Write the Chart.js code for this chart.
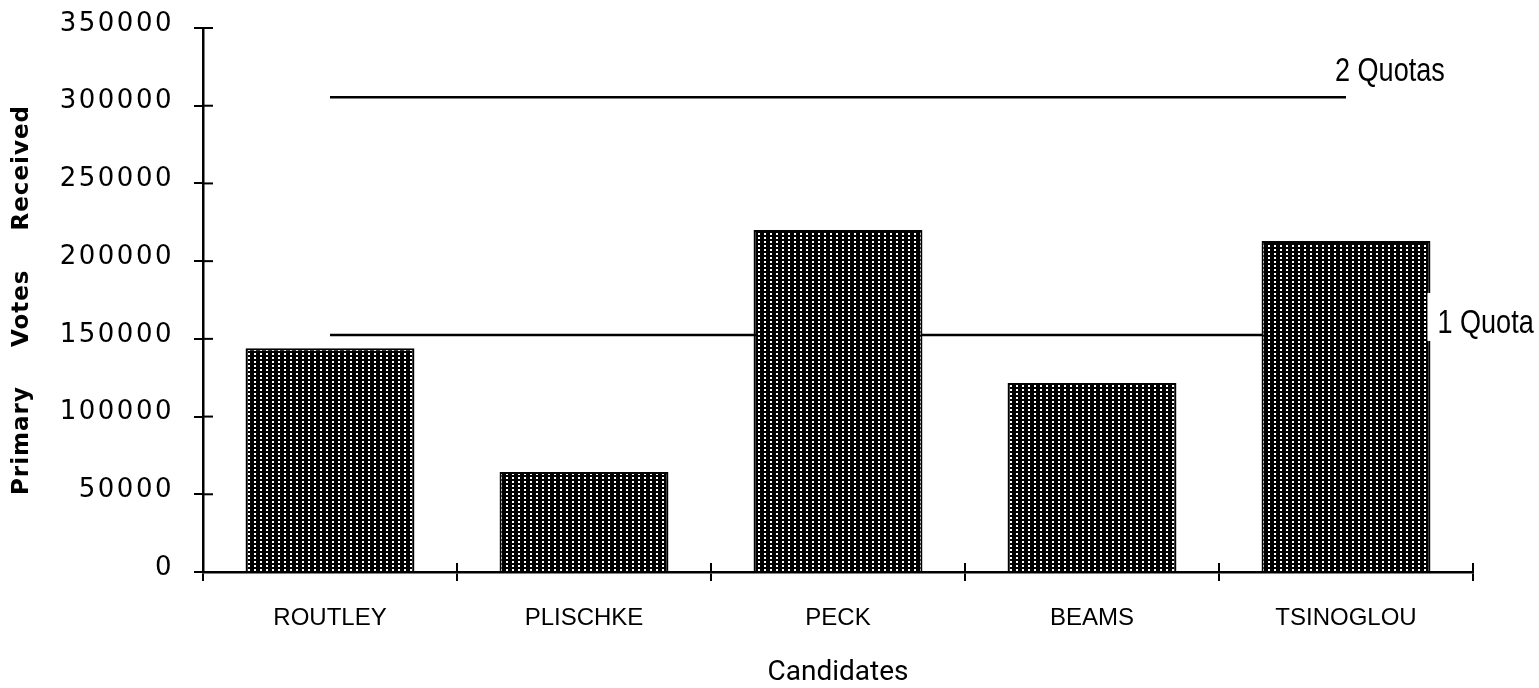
<!DOCTYPE html>
<html><head><meta charset="utf-8">
<script src="https://cdn.jsdelivr.net/npm/chart.js@4.4.1/dist/chart.umd.min.js"></script>
<style>html,body{margin:0;padding:0;background:#fff;} #wrap{width:1539px;height:688px;position:relative;}</style>
</head><body><div id="wrap"><canvas id="c"></canvas></div>
<script>
const candidates = ['ROUTLEY', 'PLISCHKE', 'PECK', 'BEAMS', 'TSINOGLOU'];
const primaryVotes = [144000, 64300, 220000, 121600, 213000];
const oneQuota = [152500, 152500, 152500, 152500, 152500];
const twoQuotas = [305500, 305500, 305500, 305500, 305500];
const quotaLabels = ['1 Quota', '2 Quotas'];
const yTicks = [0, 50000, 100000, 150000, 200000, 250000, 300000, 350000];
const yTitle = 'Primary Votes Received';
const xTitle = 'Candidates';

const canvas = document.getElementById('c');
const mainCtx = canvas.getContext('2d');
function makePattern() {
  const t = document.createElement('canvas');
  t.width = 6; t.height = 4;
  const g = t.getContext('2d');
  g.fillStyle = '#000'; g.fillRect(0, 0, 6, 4);
  g.fillStyle = '#fff'; g.fillRect(2, 1, 2, 2);
  return mainCtx.createPattern(t, 'repeat');
}
const pattern = makePattern();

const spacingPlugin = {
  id: 'spacing',
  beforeDraw(chart) {
    const y = chart.scales.y;
    if (y && !y._wrapped) {
      const dl = y.drawLabels.bind(y), dt = y.drawTitle.bind(y);
      y.drawLabels = function (a) { const c = chart.ctx; c.save(); c.letterSpacing = '2.5px'; dl(a); c.restore(); };
      y.drawTitle = function () { const c = chart.ctx; c.save(); c.letterSpacing = '1px'; try { c.wordSpacing = '30px'; } catch (e) {} dt(); c.restore(); };
      y._wrapped = true;
    }
  }
};

function condensedText(ctx, text, x, y, sx) {
  ctx.save();
  ctx.translate(x, y);
  ctx.scale(sx, 1);
  ctx.fillText(text, 0, 0);
  ctx.restore();
}

const extrasPlugin = {
  id: 'extras',
  afterDatasetsDraw(chart) {
    const { ctx, scales: { x, y }, chartArea } = chart;
    ctx.save();
    ctx.strokeStyle = '#000';
    ctx.lineWidth = 2;
    // inner halves of the crossing tick marks
    y.ticks.forEach(t => {
      const py = y.getPixelForValue(t.value);
      ctx.beginPath(); ctx.moveTo(chartArea.left, py); ctx.lineTo(chartArea.left + 10, py); ctx.stroke();
    });
    const half = (x.getPixelForValue(1) - x.getPixelForValue(0)) / 2;
    for (let i = 0; i <= candidates.length; i++) {
      const px = x.getPixelForValue(0) - half + i * 2 * half;
      ctx.beginPath(); ctx.moveTo(px, chartArea.bottom); ctx.lineTo(px, chartArea.bottom - 9); ctx.stroke();
    }
    // quota labels
    const last = candidates.length - 1;
    const bar = chart.getDatasetMeta(0).data[last];
    const barRight = bar.x + bar.width / 2;
    const q1Base = y.getPixelForValue(oneQuota[last]) - 2;
    ctx.fillStyle = '#fff';
    ctx.fillRect(barRight - 3, q1Base - 40, 8, 48);
    ctx.fillStyle = '#000';
    ctx.font = '33px "Liberation Sans", Arial, sans-serif';
    ctx.textAlign = 'left';
    ctx.textBaseline = 'alphabetic';
    condensedText(ctx, quotaLabels[1], x.getPixelForValue(last) - 11, y.getPixelForValue(twoQuotas[last]) - 16, 0.82);
    condensedText(ctx, quotaLabels[0], barRight + 7, q1Base, 0.82);
    ctx.restore();
  }
};

new Chart(canvas, {
  type: 'bar',
  data: {
    labels: candidates,
    datasets: [
      { type: 'bar', label: 'Primary Votes', data: primaryVotes, backgroundColor: pattern, borderColor: '#000', borderWidth: 2, barPercentage: 0.665, categoryPercentage: 1, order: 0 },
      { type: 'line', label: quotaLabels[0], data: oneQuota, borderColor: '#000', borderWidth: 2.5, pointRadius: 0, fill: false, order: 1 },
      { type: 'line', label: quotaLabels[1], data: twoQuotas, borderColor: '#000', borderWidth: 2.5, pointRadius: 0, fill: false, order: 1 }
    ]
  },
  options: {
    responsive: true,
    maintainAspectRatio: false,
    animation: false,
    layout: { padding: { top: 28, right: 66, bottom: 0, left: 0 } },
    plugins: { legend: { display: false }, tooltip: { enabled: false } },
    scales: {
      x: {
        afterFit(s) { s.height = 116; s.paddingLeft = 0; s.paddingRight = 0; },
        border: { display: true, color: '#000', width: 2.5 },
        grid: { offset: true, drawOnChartArea: false, tickLength: 9, color: '#000', lineWidth: 2 },
        ticks: { color: '#000', font: { family: 'Liberation Sans', size: 24 }, padding: 23, maxRotation: 0, autoSkip: false },
        title: { display: true, text: xTitle, color: '#000', font: { family: 'Roboto', size: 28, lineHeight: 1 }, padding: { top: 0, bottom: 1 } }
      },
      y: {
        min: 0, max: 350000,
        afterFit(s) { s.width = 203; s.paddingTop = 0; s.paddingBottom = 0; },
        afterBuildTicks(s) { s.ticks = yTicks.map(v => ({ value: v })); },
        border: { display: true, color: '#000', width: 2.5 },
        grid: { drawOnChartArea: false, tickLength: 9, color: '#000', lineWidth: 2 },
        ticks: { color: '#000', font: { family: 'DejaVu Sans', size: 26 }, padding: 20, labelOffset: -4, callback: v => String(v) },
        title: { display: true, text: yTitle, color: '#000', font: { family: 'DejaVu Sans', size: 23, weight: 'bold' }, padding: { top: 8, bottom: 0 } }
      }
    }
  },
  plugins: [spacingPlugin, extrasPlugin]
});
</script>
</body></html>
